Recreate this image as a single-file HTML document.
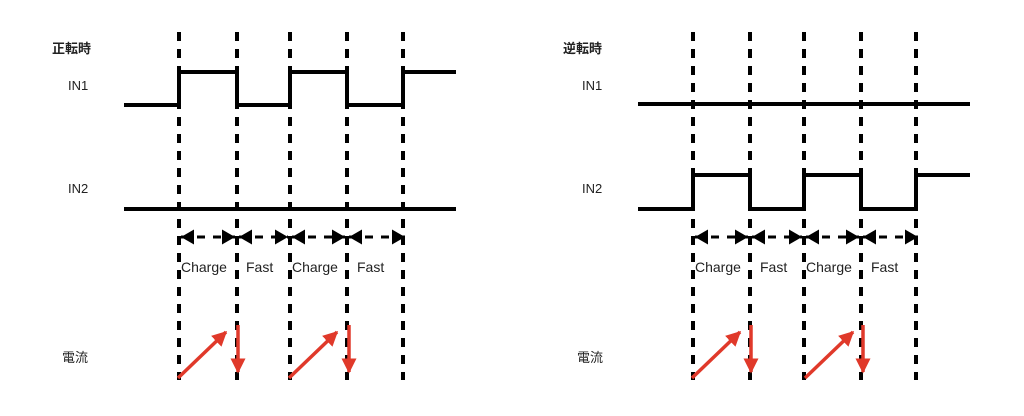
<!DOCTYPE html>
<html><head><meta charset="utf-8"><style>
html,body{margin:0;padding:0;background:#fff;}
svg{display:block}
text{font-family:"Liberation Sans","Noto Sans CJK JP",sans-serif;font-size:14px;fill:#222}
</style></head><body>
<svg width="1024" height="416" viewBox="0 0 1024 416" xmlns="http://www.w3.org/2000/svg">
<defs>
<marker id="ar" viewBox="0 0 10 10" refX="10" refY="5" markerUnits="userSpaceOnUse" markerWidth="13" markerHeight="15" orient="auto-start-reverse" preserveAspectRatio="none"><path d="M0,0L10,5L0,10z" fill="#000"/></marker>
<marker id="rr" viewBox="0 0 10 10" refX="9" refY="5" markerUnits="userSpaceOnUse" markerWidth="15" markerHeight="15" orient="auto" preserveAspectRatio="none"><path d="M0,0L10,5L0,10z" fill="#e0392a"/></marker>
</defs>
<text x="52" y="53" style="font-weight:bold;font-size:13px">正転時</text>
<text x="68" y="90" style="font-size:13px">IN1</text>
<text x="68" y="193" style="font-size:13px">IN2</text>
<text x="62" y="362" style="font-size:13px">電流</text>
<text x="563" y="53" style="font-weight:bold;font-size:13px">逆転時</text>
<text x="582" y="90" style="font-size:13px">IN1</text>
<text x="582" y="193" style="font-size:13px">IN2</text>
<text x="577" y="362" style="font-size:13px">電流</text>
<g stroke="#000" stroke-width="4" fill="none">
<path d="M124,105H179V72H237V105H290V72H347V105H403V72H456"/>
<path d="M124,209H456"/>
<path d="M638,104H970"/>
<path d="M638,209H693V175H750V209H804V175H861V209H916V175H970"/>
<g stroke-dasharray="9,8">
<path d="M179,32V380M237,32V380M290,32V380M347,32V380M403,32V380"/>
<path d="M693,32V380M750,32V380M804,32V380M861,32V380M916,32V380"/>
</g>
<g stroke-dasharray="8,8" stroke-width="3">
<path d="M181,237H235" marker-start="url(#ar)" marker-end="url(#ar)"/>
<path d="M239,237H288" marker-start="url(#ar)" marker-end="url(#ar)"/>
<path d="M292,237H345" marker-start="url(#ar)" marker-end="url(#ar)"/>
<path d="M349,237H405" marker-start="url(#ar)" marker-end="url(#ar)"/>
<path d="M695,237H748" marker-start="url(#ar)" marker-end="url(#ar)"/>
<path d="M752,237H802" marker-start="url(#ar)" marker-end="url(#ar)"/>
<path d="M806,237H859" marker-start="url(#ar)" marker-end="url(#ar)"/>
<path d="M863,237H918" marker-start="url(#ar)" marker-end="url(#ar)"/>
</g>
</g>
<g stroke="#e0392a" stroke-width="3.5" fill="none">
<path d="M178,378L226,332" marker-end="url(#rr)"/>
<path d="M238,325V372" marker-end="url(#rr)"/>
<path d="M289,378L337,332" marker-end="url(#rr)"/>
<path d="M349,325V372" marker-end="url(#rr)"/>
<path d="M692,378L740,332" marker-end="url(#rr)"/>
<path d="M751,325V372" marker-end="url(#rr)"/>
<path d="M805,378L853,332" marker-end="url(#rr)"/>
<path d="M863,325V372" marker-end="url(#rr)"/>
</g>
<g style="font-size:15.5px">
<text x="181" y="272">Charge</text><text x="246" y="272">Fast</text>
<text x="292" y="272">Charge</text><text x="357" y="272">Fast</text>
<text x="695" y="272">Charge</text><text x="760" y="272">Fast</text>
<text x="806" y="272">Charge</text><text x="871" y="272">Fast</text>
</g>
</svg>
</body></html>
